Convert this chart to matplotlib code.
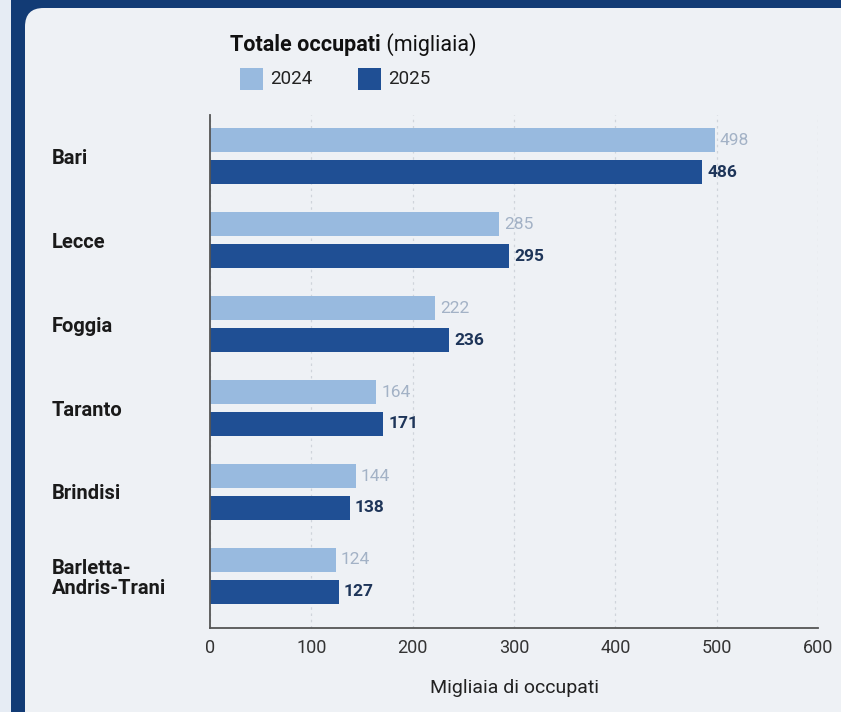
import matplotlib
matplotlib.use('Agg')
import matplotlib.pyplot as plt
from matplotlib.patches import Rectangle, FancyBboxPatch
import numpy as np

# data
province = ['Bari', 'Lecce', 'Foggia', 'Taranto', 'Brindisi', 'Barletta-\nAndris-Trani']
val_2024 = [498, 285, 222, 164, 144, 124]
val_2025 = [486, 295, 236, 171, 138, 127]
years = ['2024', '2025']
xticks = [0, 100, 200, 300, 400, 500, 600]

c24 = '#98badf'
c25 = '#1f4f94'
navy = '#123b75'
panel = '#eef1f5'

plt.rcParams['font.family'] = ['Roboto', 'DejaVu Sans']

fig = plt.figure(figsize=(8.41, 7.12), dpi=100)
fig.patch.set_facecolor(navy)

# frame: light strip on the left, rounded panel
fig.patches.append(Rectangle((0, 0), 11 / 841, 1, transform=fig.transFigure,
                             facecolor='#e6ecf4', edgecolor='none', zorder=-2))
fig.patches.append(FancyBboxPatch((25 / 841, -0.1), 1.1, 1.1 - 8 / 712,
                                  boxstyle='round,pad=0,rounding_size=0.022',
                                  transform=fig.transFigure, mutation_aspect=841 / 712,
                                  facecolor=panel, edgecolor='none', zorder=-1))

ax = fig.add_axes([210 / 841, 84 / 712, 608 / 841, 513 / 712])
ax.set_facecolor('none')
ax.set_zorder(1)

y = np.arange(len(province))
h = 0.285
off = 0.19
ax.barh(y - off, val_2024, height=h, color=c24, zorder=2)
ax.barh(y + off, val_2025, height=h, color=c25, zorder=2)

# value labels
for i in range(len(province)):
    ax.text(val_2024[i] + 5, y[i] - off, str(val_2024[i]), va='center', ha='left',
            fontsize=12.5, color='#a3b2c6')
    ax.text(val_2025[i] + 5, y[i] + off, str(val_2025[i]), va='center', ha='left',
            fontsize=12.5, color='#1e3559', fontweight='bold')

ax.set_xlim(0, 600)
ax.set_ylim(5.62, -0.49)
ax.set_xticks(xticks)
ax.set_xticklabels([str(t) for t in xticks], fontsize=13, color='#333333')
ax.set_yticks(y)
ax.set_yticklabels(province, fontsize=14.5, fontweight='bold', color='#1a1a1a',
                   ha='left', linespacing=1.1)
ax.tick_params(axis='y', length=0, pad=114)
ax.tick_params(axis='x', length=0, pad=8)
ax.grid(axis='x', linestyle=(0, (2, 3)), color='#cfd4db', linewidth=0.9, zorder=0)
for s in ['top', 'right']:
    ax.spines[s].set_visible(False)
for s in ['left', 'bottom']:
    ax.spines[s].set_color('#555555')
    ax.spines[s].set_linewidth(1.3)
ax.set_xlabel('Migliaia di occupati', fontsize=14, color='#222222', labelpad=16)

# title and legend
t1 = fig.text(230 / 841, 1 - 45 / 712, 'Totale occupati', fontsize=15.5, fontweight='bold',
              color='#111111', va='center')
fig.text(0, 0, '')
ax.annotate(' (migliaia)', xy=(1, 0), xycoords=t1, va='bottom', ha='left',
            fontsize=15.5, color='#111111', annotation_clip=False)
for xs, col, lab in [(240, c24, years[0]), (358, c25, years[1])]:
    fig.patches.append(Rectangle((xs / 841, 1 - 90 / 712), 23 / 841, 22 / 712,
                                 transform=fig.transFigure, facecolor=col, edgecolor='none'))
    fig.text((xs + 30) / 841, 1 - 79 / 712, lab, fontsize=13.5, color='#222222', va='center')

fig.savefig('out.png', dpi=100, facecolor=fig.get_facecolor())
